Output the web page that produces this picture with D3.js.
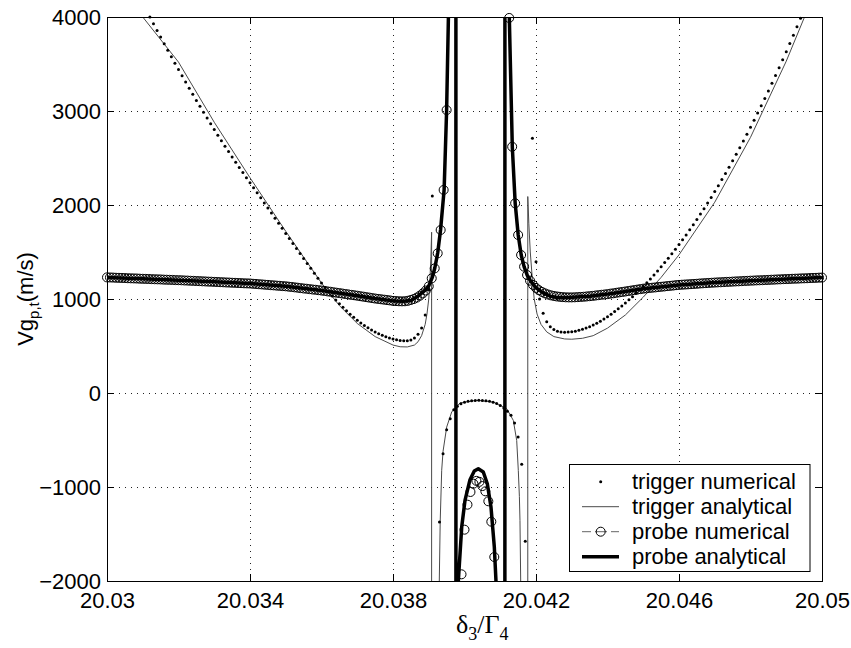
<!DOCTYPE html>
<html>
<head>
<meta charset="utf-8">
<script src="https://cdn.jsdelivr.net/npm/d3@7"></script>
<style>
  body { margin: 0; background: #fff; }
  svg text { font-family: "Liberation Sans", Arial, Helvetica, sans-serif; fill: #000; }
</style>
</head>
<body>
<svg id="chart" width="851" height="648"></svg>
<script>
// ---- axis ticks -------------------------------------------------------
const xTicks = [20.03, 20.034, 20.038, 20.042, 20.046, 20.05];
const xTickLabels = ["20.03", "20.034", "20.038", "20.042", "20.046", "20.05"];
const yTicks = [-2000, -1000, 0, 1000, 2000, 3000, 4000];
const yTickLabels = ["\u22122000", "\u22121000", "0", "1000", "2000", "3000", "4000"];

// ---- trigger numerical: samples every 1e-4 starting at 20.03 ------------
const trigNumStart = 20.03;
const trigNumStep = 0.0001;
const trigNumV = [
  4940,4856,4773,4691,4610,4530,4451,4373,4296,4220,4145,4072,
  4000,3928,3857,3786,3716,3646,3577,3509,3441,3374,3308,3242,3177,3113,3050,2987,2925,2864,2803,2743,2684,2626,2568,2511,2455,2400,2345,2291,2238,
  2184,2130,2076,2022,1968,1914,1860,1806,1752,1698,1644,1590,1537,1484,1431,1378,1326,1274,1222,1170,
  1122,1076,1032,990,950,911,874,839,806,775,746,719,694,671,650,631,614,599,586,575,566,559,555,556,565,585,625,691,830,1100,2096,-6000,
  -1372,-645,-390,-273,-177,-140,-115,-98,-88,-82,-79,-78,-79,-82,-88,-98,-112,-132,-160,-195,-238,-319,-468,-759,-1578,-6000,
  2709,1397,1000,848,759,706,675,658,650,647,648,652,658,667,678,691,706,723,742,763,786,811,
  838,866,896,926,958,991,1025,1061,1097,1135,1174,1214,1256,1298,1342,1387,1433,1481,1529,1579,
  1630,1682,1736,1790,1846,1903,1961,2020,2081,2143,2206,2270,2336,2402,2470,2539,2609,2681,2753,2827,
  2902,2978,3056,3134,3214,3295,3377,3461,3545,3631,3718,3806,3896,3986,4077,4170,4264,4360,4457,4555
];

// ---- trigger analytical ---------------------------------------------
const trigAnaX = [
  20.0300,20.0305,20.0310,20.0320,20.0330,20.0340,20.0350,20.0360,20.0365,20.0370,20.0375,20.0380,20.0382,20.0384,20.0386,20.0387,20.0388,20.0389,20.03895,20.0390,20.03903,20.03906,20.03908,20.039085,
  20.039285,20.039295,20.03932,20.039362,20.0394,20.039502,20.039642,20.039874,20.040341,20.040806,20.04118,20.041365,20.04146,20.041505,20.041535,20.041552,20.041572,20.04159,
  20.04176,20.04177,20.0418,20.04184,20.0419,20.04195,20.04203,20.04214,20.0423,20.0425,20.0428,20.0430,20.0433,20.0436,20.0440,20.0445,20.0450,20.0455,20.0460,20.0470,20.0480,20.0490,20.0495,20.0500
];
const trigAnaV = [
  4700,4330,4000,3520,2880,2290,1720,1170,930,740,600,510,492,490,510,545,610,730,840,1000,1180,1450,1710,-1000000,
  -3000,-2000,-1372,-822,-620,-362,-202,-106,-78,-96,-167,-291,-504,-823,-1100,-1355,-2004,-3000,
  -1000000,2090,1800,1500,1200,1000,840,730,650,600,575,572,582,610,690,830,1020,1230,1470,2030,2720,3530,3990,4480
];

// ---- probe numerical: samples every 1/12000 starting at 20.03 -----------
const probeNumStart = 20.03;
const probeNumStep = 1 / 12000;
const probeNumV = [
  1230,1229,1228,1226,1225,1224,1223,1221,1220,1219,1218,1216,1215,1214,1213,1211,1210,1209,1208,1206,1205,1204,1203,1201,1200,
  1199,1197,1196,1194,1193,1191,1190,1188,1187,1185,1184,1182,1181,1179,1178,1176,1175,1173,1172,1170,1169,1167,1166,1165,
  1162,1160,1157,1155,1152,1150,1147,1145,1142,1140,1137,1135,
  1131,1128,1124,1120,1116,1112,1109,1105,1101,1098,1094,1090,
  1086,1081,1077,1072,1067,1063,1058,1053,1049,1044,1040,1035,
  1030,1025,1020,1015,1010,1005,1001,997,993,989,985,980,
  978,976,975,976,981,990,1000,1015,1035,1060,1090,1135,1220,
  1326,1486,1734,2160,3010,9000,60000,-20000,-4000,
  -1929,-1454,-1188,-1053,-965,-935,-945,-990,-1046,-1152,-1369,-1745,
  -2600,-6000,-40000,30000,
  3990,2620,2018,1681,1468,1344,1255,1195,1150,1118,1093,1075,1060,1048,1039,1032,1027,1023,1020,1018,1017,
  1017,1018,1020,1022,1024,1027,1030,1033,1037,1041,1045,1048,1052,1057,1061,1066,1071,1075,1080,1085,1090,1095,1100,1105,1110,1113,1117,1120,1123,1127,1130,1133,1137,1140,1143,1147,1150,
  1152,1154,1156,1158,1160,1162,1165,1167,1169,1171,1173,1175,
  1177,1178,1180,1182,1183,1185,1187,1188,1190,1192,1193,1195,
  1196,1198,1199,1200,1202,1203,1205,1206,1208,1209,1211,1212,
  1213,1215,1216,1217,1219,1220,1221,1223,1224,1225,1227,1228
];

// ---- probe analytical -----------------------------------------------
const probeAnaX = [
  20.0300,20.0310,20.0320,20.0330,20.0340,20.0350,20.0360,20.0370,20.0375,20.0380,20.0383,20.0385,20.0387,20.0389,20.0390,20.0391,20.03917,20.03925,20.03933,20.03943,20.0395,20.03955,20.0396,20.03965,20.0397,20.03975,
  20.03977,20.0398,20.039827,20.039922,20.040014,20.040154,20.040274,20.040386,20.040526,20.040638,20.040741,20.040834,20.040881,20.04095,20.04105,20.04112,
  20.04114,20.04118,20.04122,20.041253,20.041337,20.041418,20.041502,20.041586,20.041667,20.041751,20.04185,20.0420,20.0422,20.0424,20.0426,20.0429,20.0435,20.0440,20.0445,20.0450,20.0460,20.0470,20.0480,20.0490,20.0500
];
const probeAnaV = [
  1230,1215,1200,1183,1165,1135,1090,1035,1005,980,975,985,1030,1095,1140,1230,1330,1489,1734,2160,3010,4000,5500,8500,15000,100000,
  -100000,-3500,-2000,-1426,-1142,-922,-830,-805,-840,-965,-1213,-1638,-2004,-3000,-8000,-100000,
  100000,12000,5500,4000,2620,2018,1681,1468,1344,1255,1190,1120,1065,1030,1015,1015,1030,1052,1080,1110,1150,1175,1195,1212,1228
];

// ---- legend -----------------------------------------------------------
const legendLabels = ["trigger numerical", "trigger analytical", "probe numerical", "probe analytical"];

// ---------------------------------------------------------------------
const svg = d3.select("#chart");
const plot = { left: 107, right: 822, top: 17, bottom: 581 };

const x = d3.scaleLinear().domain([20.03, 20.05]).range([plot.left, plot.right]);
const y = d3.scaleLinear().domain([-2000, 4000]).range([plot.bottom, plot.top]);

svg.append("rect").attr("width", 851).attr("height", 648).attr("fill", "#fff");

svg.append("defs").append("clipPath").attr("id", "plotClip")
  .append("rect")
  .attr("x", plot.left).attr("y", plot.top)
  .attr("width", plot.right - plot.left).attr("height", plot.bottom - plot.top);

// dotted grid
const grid = svg.append("g").attr("stroke", "#222").attr("stroke-width", 1)
  .attr("stroke-dasharray", "1,5").attr("shape-rendering", "crispEdges");
grid.selectAll("line.gx").data(xTicks.slice(1, -1)).join("line")
  .attr("x1", d => Math.round(x(d)) + 0.5).attr("x2", d => Math.round(x(d)) + 0.5)
  .attr("y1", plot.top).attr("y2", plot.bottom);
grid.selectAll("line.gy").data(yTicks.slice(1, -1)).join("line")
  .attr("y1", d => Math.round(y(d)) + 0.5).attr("y2", d => Math.round(y(d)) + 0.5)
  .attr("x1", plot.left).attr("x2", plot.right);

// axes (ticks pointing inward, on all four sides)
const fmtX = d => xTickLabels[xTicks.indexOf(d)];
const fmtY = d => yTickLabels[yTicks.indexOf(d)];

const gBottom = svg.append("g").attr("transform", `translate(0,${plot.bottom})`)
  .call(d3.axisBottom(x).tickValues(xTicks).tickFormat(fmtX).tickSize(-7).tickSizeOuter(0).tickPadding(11));
const gTop = svg.append("g").attr("transform", `translate(0,${plot.top})`)
  .call(d3.axisTop(x).tickValues(xTicks).tickFormat("").tickSize(-7).tickSizeOuter(0));
const gLeft = svg.append("g").attr("transform", `translate(${plot.left},0)`)
  .call(d3.axisLeft(y).tickValues(yTicks).tickFormat(fmtY).tickSize(-7).tickSizeOuter(0).tickPadding(6));
const gRight = svg.append("g").attr("transform", `translate(${plot.right},0)`)
  .call(d3.axisRight(y).tickValues(yTicks).tickFormat("").tickSize(-7).tickSizeOuter(0));

[gBottom, gTop, gLeft, gRight].forEach(g => {
  g.select(".domain").remove();
  g.selectAll(".tick line").attr("stroke", "#000");
  g.selectAll("text").attr("font-size", 22).attr("fill", "#000")
    .attr("font-family", '"Liberation Sans", Arial, sans-serif');
});

// data series
const trigNum = trigNumV.map((v, i) => [trigNumStart + i * trigNumStep, v]);
const probeNum = probeNumV.map((v, i) => [probeNumStart + i * probeNumStep, v]);
const trigAna = trigAnaX.map((t, i) => [t, trigAnaV[i]]);
const probeAna = probeAnaX.map((t, i) => [t, probeAnaV[i]]);

const inRange = d => d[1] >= -2010 && d[1] <= 4010 && d[0] >= 20.03 && d[0] <= 20.05;
const line = d3.line().x(d => x(d[0])).y(d => y(d[1]));

const lines = svg.append("g").attr("clip-path", "url(#plotClip)");

// trigger analytical: thin grey line
lines.append("path").datum(trigAna)
  .attr("d", line).attr("fill", "none").attr("stroke", "#4a4a4a").attr("stroke-width", 1);

// probe numerical: open circles
svg.append("g").selectAll("circle").data(probeNum.filter(inRange)).join("circle")
  .attr("cx", d => x(d[0])).attr("cy", d => y(d[1])).attr("r", 4.5)
  .attr("fill", "none").attr("stroke", "#000").attr("stroke-width", 1);

// trigger numerical: small dots
svg.append("g").selectAll("circle").data(trigNum.filter(inRange)).join("circle")
  .attr("cx", d => x(d[0])).attr("cy", d => y(d[1])).attr("r", 1.5).attr("fill", "#000");

// probe analytical: thick black line
lines.append("path").datum(probeAna)
  .attr("d", line).attr("fill", "none").attr("stroke", "#000").attr("stroke-width", 3.5)
  .attr("stroke-linejoin", "round");

// axes box
svg.append("rect")
  .attr("x", plot.left + 0.5).attr("y", plot.top + 0.5)
  .attr("width", plot.right - plot.left).attr("height", plot.bottom - plot.top)
  .attr("fill", "none").attr("stroke", "#000").attr("stroke-width", 1)
  .attr("shape-rendering", "crispEdges");

// axis titles
const yTitle = svg.append("text")
  .attr("transform", `translate(33,${(plot.top + plot.bottom) / 2}) rotate(-90)`)
  .attr("text-anchor", "middle").attr("font-size", 22);
yTitle.append("tspan").text("Vg");
yTitle.append("tspan").attr("font-size", 15).attr("dy", 6).text("p,t");
yTitle.append("tspan").attr("dy", -6).text("(m/s)");

const xTitle = svg.append("text")
  .attr("x", 456).attr("y", 633).attr("font-size", 26)
  .style("font-family", '"Liberation Serif", "Times New Roman", serif');
xTitle.append("tspan").text("\u03b4");
xTitle.append("tspan").attr("font-size", 18).attr("dy", 7).text("3");
xTitle.append("tspan").attr("dy", -7).text("/\u0393");
xTitle.append("tspan").attr("font-size", 18).attr("dy", 7).text("4");

// legend
const lg = svg.append("g");
lg.append("rect").attr("x", 569.5).attr("y", 464.5).attr("width", 240.5).attr("height", 107)
  .attr("fill", "#fff").attr("stroke", "#000").attr("stroke-width", 1);
const rowY = [481.7, 506.7, 531.7, 556.7];
const sx0 = 582, sx1 = 619, sxm = 600.7;
lg.append("circle").attr("cx", sxm).attr("cy", rowY[0]).attr("r", 1.5).attr("fill", "#000");
lg.append("line").attr("x1", sx0).attr("x2", sx1).attr("y1", rowY[1]).attr("y2", rowY[1])
  .attr("stroke", "#4a4a4a").attr("stroke-width", 1);
lg.append("line").attr("x1", sx0).attr("x2", sx1).attr("y1", rowY[2]).attr("y2", rowY[2])
  .attr("stroke", "#666").attr("stroke-width", 1).attr("stroke-dasharray", "9,4,12,4,9");
lg.append("circle").attr("cx", sxm).attr("cy", rowY[2]).attr("r", 4.5)
  .attr("fill", "none").attr("stroke", "#000").attr("stroke-width", 1);
lg.append("line").attr("x1", sx0).attr("x2", sx1).attr("y1", rowY[3]).attr("y2", rowY[3])
  .attr("stroke", "#000").attr("stroke-width", 3.5);
lg.selectAll("text.lab").data(legendLabels).join("text")
  .attr("x", 632).attr("y", (d, i) => rowY[i] + 7.5)
  .attr("font-size", 22).text(d => d);
</script>
</body>
</html>
